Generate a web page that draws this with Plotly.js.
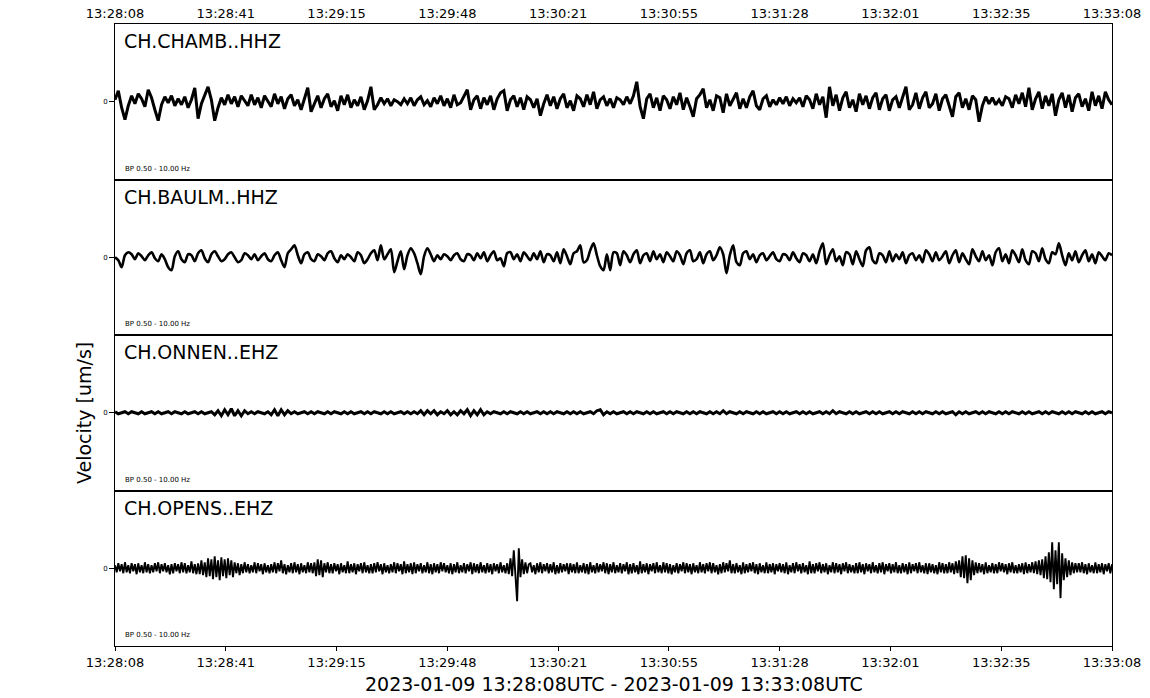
<!DOCTYPE html>
<html>
<head>
<meta charset="utf-8">
<script src="https://cdn.plot.ly/plotly-3.0.1.min.js"></script>
<style>html,body{margin:0;padding:0;background:#fff;}#chart{width:1150px;height:698px;}</style>
</head>
<body>
<div id="chart"></div>
<script>
// ---- data ----
const stations = ["CH.CHAMB..HHZ", "CH.BAULM..HHZ", "CH.ONNEN..EHZ", "CH.OPENS..EHZ"];
const filterLabel = "BP 0.50 - 10.00 Hz";
const sampleIntervals = [1, 1, 1, 0.5]; // seconds between samples, per station
const tickSeconds = [0, 33.333, 66.667, 100, 133.333, 166.667, 200, 233.333, 266.667, 300];
const tickLabels = ["13:28:08", "13:28:41", "13:29:15", "13:29:48", "13:30:21", "13:30:55", "13:31:28", "13:32:01", "13:32:35", "13:33:08"];
const timeTitle = "2023-01-09 13:28:08UTC - 2023-01-09 13:33:08UTC";
const yTitle = "Velocity [um/s]";

const chamb = [
 2, 11, -6, -18, -4, 6, -2, 8, 3, -5,
 12, 4, -8, -19, -3, 5, -1, 6, -4, 3,
 -3, 5, -6, 2, 14, -17, -2, 6, 15, 2,
 -19, -6, 4, -3, 7, -2, 5, -5, 6, 1,
 -4, 7, -3, 4, -6, 6, 0, -5, 8, -2,
 5, -7, 3, 7, -4, 2, -8, 4, 14, -10,
 -2, 6, -6, 3, 8, -5, 1, -9, 6, -3,
 7, -6, 2, -4, 5, -8, 1, 15, -8, -3,
 4, -2, 3, -4, 2, 0, -3, 3, -2, 4,
 -4, 2, 5, -3, 1, -5, 4, -2, 6, -4,
 3, -6, 7, -3, -1, 5, 12, -8, 2, 6,
 -7, 4, -3, 6, -8, 3, 9, 11, -9, 2,
 6, -5, 4, -8, 5, 2, -6, 3, -14, -2,
 7, -4, 5, -7, 3, 8, -6, 1, -9, 6,
 3, -5, 7, -3, 10, -7, 2, 5, -4, 3,
 -6, 4, 2, -3, 5, -2, 6, 20, -5, -17,
 3, 8, -6, 4, -9, 6, 2, -7, 5, -3,
 9, -8, 4, -5, -15, 3, 7, 13, -6, 2,
 -9, 6, 4, -11, 8, -4, 2, 9, -7, 3,
 -6, 5, 11, -4, -8, 3, 6, -5, 2, -3,
 4, -2, 5, -4, 3, -1, 4, -5, 6, 2,
 -7, 8, -3, 5, -16, 15, -4, 7, -9, 4,
 10, -6, 2, -10, 8, -3, 6, -7, 4, 9,
 -8, 3, 7, -9, 2, 5, -6, 4, 15, -8,
 -3, 9, -7, 4, 10, -6, -2, 8, -9, 3,
 7, -4, -15, 5, 9, -6, 3, -8, 6, 2,
 -20, -4, 5, -2, 4, -3, 2, -4, 5, 3,
 -6, 7, -2, 9, -5, 14, -8, 3, 10, -7,
 6, -4, 8, -14, 2, 9, -6, 7, -10, 4,
 8, -5, 3, -9, 10, -4, 6, -7, 10, 2,
 -3
];
const baulm = [
 0, -3, -10, 2, 5, 3, -2, 4, 1, -3,
 2, 5, -1, -4, 3, -2, -10, -13, 1, 6,
 -2, -5, 3, 2, -4, 4, 7, -1, -5, 3,
 6, 1, -4, -2, 3, 5, 0, -5, -3, 4,
 2, -2, 3, -3, 1, 4, -2, -4, 2, 5,
 -3, -10, 4, 8, 12, 2, -6, 3, 5, -2,
 -4, 3, 1, -3, 4, 6, -1, -5, 2, -2,
 3, 0, -4, 5, 2, -6, -2, 4, 7, -3,
 12, -2, 3, 8, -15, -4, 6, -12, 2, 9,
 4, -6, -17, 1, 9, 3, -4, 2, -2, 3,
 1, -3, 2, 4, -2, -4, 3, 2, -3, 4,
 -1, 5, -4, 2, 6, -3, -1, -9, 4, 5,
 -2, 3, -4, 5, 1, -3, 4, -2, 6, -5,
 3, 2, -4, 5, -6, 8, 1, -7, 4, 6,
 12, -5, -3, 7, 14, 2, -9, -13, 3, -13,
 5, 4, -8, 6, 2, -5, 3, 7, -6, 2,
 4, -4, 6, -2, 3, -5, 5, 1, -4, 6,
 2, -7, 4, 7, -4, -2, 5, -6, 3, 6,
 -3, 2, 10, 3, -16, 2, 12, -5, -8, 4,
 6, -2, 3, -5, 2, 4, -3, 1, 5, -2,
 -4, 3, 2, -3, 5, -1, -5, 4, 2, -4,
 3, -6, 6, 14, -7, 2, 8, -4, 1, -8,
 5, 3, -7, 6, -2, -9, 7, 10, -3, -6,
 4, 2, -5, 6, -4, 3, -2, 5, -6, 2,
 4, -3, 2, -5, 7, 3, -4, 5, -3, 1,
 6, -6, 2, 7, -5, 4, -2, -7, 8, 1,
 -4, 6, -3, 2, -8, 5, 9, -4, 3, -6,
 7, 2, -5, 8, -3, -7, 6, 4, -4, 9,
 -2, -6, 5, 3, 14, 2, -8, 4, -3, 6,
 -5, 2, 7, -4, 3, -6, 5, 1, -3, 4,
 2
];
const onnen = [
 1, -1, 0, 1, -1, 1, 0, -1, 1, -1,
 0, 1, -1, 1, -1, 0, 1, -1, 1, 0,
 -1, 1, -1, 0, 1, -1, 1, -1, 0, 1,
 -2, 2, -3, 3, -2, 4, -3, 2, -3, 2,
 -1, 1, -1, 1, 0, -1, 1, -2, 3, -3,
 3, -2, 2, -1, 1, -1, 0, 1, -1, 1,
 -1, 1, 0, -1, 1, -1, 1, 0, -1, 1,
 -1, 1, -1, 0, 1, -1, 1, -1, 1, 0,
 -1, 1, -1, 1, -1, 0, 1, -1, 1, -1,
 1, -1, 2, -2, 2, -1, 2, -2, 1, -1,
 2, -2, 1, -2, 2, -1, 3, -3, 2, -2,
 3, -2, 1, -1, 1, 0, -1, 1, -1, 1,
 0, -1, 1, -1, 1, -1, 0, 1, -1, 1,
 -1, 1, -1, 1, 0, -1, 1, -1, 1, -1,
 1, -1, 0, 1, -1, 2, 3, -2, 1, -1,
 1, -1, 0, 1, -1, 1, -1, 1, 0, -1,
 1, -1, 1, -1, 0, 1, -1, 1, -1, 1,
 0, -1, 1, -1, 1, -1, 1, 0, -1, 1,
 -1, 1, -1, 2, -1, 1, 0, -1, 1, -1,
 1, 0, -1, 1, -1, 1, -1, 0, 1, -1,
 1, -1, 1, -1, 0, 1, -1, 1, -1, 1,
 -1, 0, 1, -1, 1, -1, 2, -1, 1, 0,
 -1, 1, -1, 1, -1, 0, 1, -1, 1, -1,
 1, -1, 0, 1, -1, 1, -1, 1, 0, -1,
 1, -1, 1, -1, 1, 0, -1, 1, -1, 1,
 -1, 0, 1, -2, 1, -1, 1, -1, 0, 1,
 -1, 1, -1, 1, 0, -1, 1, -1, 1, -1,
 1, 0, -1, 1, -1, 1, -1, 0, 1, -1,
 1, -1, 1, 0, -1, 1, -1, 1, -1, 1,
 0, -1, 1, -1, 1, -1, 0, 1, -1, 1,
 0
];
const opens = [
 3, -4, 5, -3, 4, -5, 6, -4, 3, -5,
 5, -3, 4, -6, 5, -4, 3, -5, 6, -4,
 4, -5, 3, -4, 5, -3, 6, -5, 4, -3,
 5, -4, 3, -6, 4, -5, 5, -3, 4, -5,
 6, -4, 5, -5, 3, -4, 7, -5, 4, -6,
 5, -6, 8, -7, 6, -9, 10, -8, 9, -11,
 12, -9, 8, -12, 11, -8, 9, -10, 10, -7,
 8, -9, 6, -5, 5, -7, 4, -5, 6, -4,
 4, -5, 3, -4, 6, -5, 5, -3, 4, -6,
 5, -4, 3, -5, 4, -4, 6, -5, 5, -3,
 8, -5, 4, -6, 3, -4, 5, -5, 6, -4,
 4, -6, 5, -4, 3, -5, 6, -4, 5, -5,
 6, -8, 9, -7, 8, -9, 5, -4, 6, -5,
 4, -5, 5, -3, 4, -6, 5, -4, 3, -5,
 7, -5, 4, -4, 5, -6, 4, -3, 5, -5,
 6, -4, 3, -5, 4, -5, 5, -4, 6, -3,
 4, -6, 5, -4, 3, -5, 4, -4, 6, -5,
 5, -3, 4, -6, 7, -5, 4, -4, 5, -6,
 6, -5, 4, -3, 5, -5, 3, -4, 6, -5,
 4, -6, 5, -4, 4, -5, 6, -3, 5, -4,
 3, -5, 5, -6, 4, -4, 6, -5, 3, -4,
 5, -5, 4, -3, 6, -6, 5, -4, 4, -5,
 6, -4, 3, -5, 5, -4, 4, -6, 5, -3,
 4, -5, 6, -4, 3, -5, 5, -6, 10, -8,
 18, -10, -33, 20, -9, 9, -6, 6, -5, 4,
 5, -4, 3, -6, 5, -4, 6, -5, 4, -3,
 5, -5, 4, -4, 6, -6, 3, -5, 5, -4,
 4, -3, 5, -6, 5, -4, 4, -5, 6, -5,
 3, -4, 5, -5, 4, -6, 6, -4, 3, -5,
 5, -4, 4, -3, 6, -5, 5, -6, 4, -4,
 6, -5, 3, -4, 5, -5, 4, -3, 6, -6,
 4, -5, 5, -4, 3, -6, 7, -5, 4, -4,
 5, -6, 4, -3, 5, -5, 6, -4, 3, -5,
 6, -4, 5, -5, 4, -6, 3, -4, 5, -5,
 4, -3, 6, -5, 5, -4, 4, -6, 5, -4,
 3, -5, 6, -4, 4, -5, 5, -3, 6, -5,
 5, -4, 3, -6, 4, -5, 6, -4, 5, -3,
 8, -5, 4, -5, 5, -4, 3, -6, 6, -5,
 4, -4, 5, -3, 6, -5, 4, -6, 5, -4,
 3, -5, 6, -5, 4, -4, 5, -6, 4, -3,
 5, -4, 4, -5, 6, -6, 3, -4, 5, -5,
 6, -3, 4, -5, 5, -4, 3, -6, 7, -5,
 4, -5, 5, -3, 6, -5, 4, -4, 5, -6,
 3, -4, 6, -5, 5, -4, 4, -6, 5, -3,
 6, -5, 4, -4, 3, -5, 5, -5, 6, -4,
 4, -6, 5, -3, 4, -5, 6, -4, 3, -5,
 5, -4, 6, -6, 4, -3, 5, -5, 4, -4,
 6, -5, 3, -5, 5, -4, 4, -6, 6, -5,
 4, -3, 5, -5, 6, -4, 3, -5, 5, -6,
 5, -4, 4, -5, 3, -6, 6, -4, 5, -5,
 4, -5, 6, -4, 5, -6, 7, -5, 8, -9,
 12, -10, 13, -15, 10, -12, 8, -7, 6, -5,
 5, -4, 4, -6, 6, -5, 3, -4, 5, -5,
 4, -5, 6, -3, 5, -4, 4, -6, 5, -4,
 6, -5, 3, -5, 4, -4, 5, -6, 6, -5,
 4, -4, 6, -5, 7, -6, 8, -7, 9, -10,
 12, -11, 16, -14, 26, -21, 18, -16, 26, -30,
 15, -12, 10, -9, 8, -7, 6, -5, 5, -4,
 5, -4, 6, -5, 4, -6, 5, -4, 3, -5,
 6, -5, 4, -4, 5, -6, 4, -3, 5, -5,
 4
];
const series = [chamb, baulm, onnen, opens];
const lineWidths = [3, 2.6, 3, 1.9];
const lineShapes = ["linear", "spline", "linear", "linear"];

// ---- figure ----
const font = "DejaVu Sans, Arial, sans-serif";
const n = series.length;
const traces = [];
const layout = {
  width: 1150, height: 698,
  margin: {l: 115, r: 38, t: 24, b: 52},
  paper_bgcolor: "#fff", plot_bgcolor: "#fff",
  showlegend: false,
  font: {family: font, color: "#000"},
  annotations: [],
};
const half = 78;
series.forEach((vals, i) => {
  const xs = vals.map((_, k) => k * sampleIntervals[i]);
  const ax = i + 1;
  traces.push({
    type: "scatter", mode: "lines", x: xs, y: vals,
    xaxis: "x" + ax, yaxis: "y" + ax,
    line: {color: "#000", width: lineWidths[i], shape: lineShapes[i], smoothing: 0.8},
    hoverinfo: "skip",
  });
  const top = 1 - i / n, bot = 1 - (i + 1) / n;
  const xa = {
    domain: [0, 1], range: [0, 300], anchor: "y" + ax,
    showline: true, mirror: true, linecolor: "#000", linewidth: 1,
    showgrid: false, zeroline: false,
    tickmode: "array", tickvals: tickSeconds, ticktext: tickLabels,
    tickfont: {family: font, size: 13, color: "#000"},
    showticklabels: false, ticks: "",
  };
  if (i > 0) xa.matches = "x";
  if (i === 0) { xa.side = "top"; xa.showticklabels = true; xa.ticks = ""; }
  if (i === n - 1) { xa.showticklabels = true; xa.ticks = "outside"; xa.ticklen = 4; xa.tickcolor = "#000"; }
  layout["xaxis" + (ax === 1 ? "" : ax)] = xa;
  layout["yaxis" + (ax === 1 ? "" : ax)] = {
    domain: [bot, top], range: [-half, half], anchor: "x" + ax,
    showline: true, mirror: true, linecolor: "#000", linewidth: 1,
    showgrid: false, zeroline: false,
    tickmode: "array", tickvals: [0], ticktext: ["0"],
    ticks: "outside", ticklen: 5, tickcolor: "#000",
    tickfont: {family: font, size: 7, color: "#000"},
  };
  layout.annotations.push({
    text: stations[i], xref: "x" + ax + " domain", yref: "y" + ax + " domain",
    x: 0.01, xshift: -3, y: 1 - 17 / 155.5, xanchor: "left", yanchor: "middle",
    showarrow: false, font: {family: font, size: 19, color: "#000"},
  });
  layout.annotations.push({
    text: filterLabel, xref: "x" + ax + " domain", yref: "y" + ax + " domain",
    x: 0.01, xshift: -2, y: 11 / 155.5, xanchor: "left", yanchor: "middle",
    showarrow: false, font: {family: font, size: 7, color: "#000"},
  });
});
layout.annotations.push({
  text: timeTitle, xref: "paper", yref: "paper", x: 0.5, y: -52 / 622 + 14 / 622,
  xanchor: "center", yanchor: "middle", showarrow: false,
  font: {family: font, size: 19, color: "#000"},
});
layout.annotations.push({
  text: yTitle, xref: "paper", yref: "paper", x: -31 / 997, y: (646 - 413) / 622,
  xanchor: "center", yanchor: "middle", textangle: -90, showarrow: false,
  font: {family: font, size: 19, color: "#000"},
});
Plotly.newPlot("chart", traces, layout, {staticPlot: true, displayModeBar: false});
</script>
</body>
</html>
